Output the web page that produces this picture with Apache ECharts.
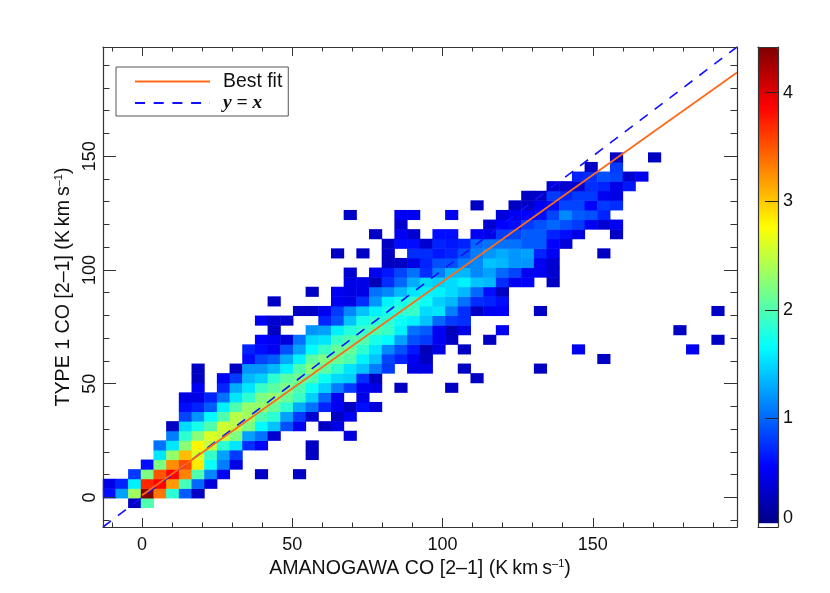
<!DOCTYPE html>
<html>
<head>
<meta charset="utf-8">
<title>CO [2-1] comparison</title>
<script src="https://cdn.jsdelivr.net/npm/echarts@6/dist/echarts.min.js"></script>
<style>
    html, body { margin: 0; padding: 0; background: #fff; }
    #chart { width: 830px; height: 593px; }
</style>
</head>
<body>
<div id="chart"></div>
<script>
// 坐标范围
const axisMin = -13;
const axisMax = 198;
const binCount = 50;
const colorMax = 4.42;

// 每行第一个有值的格子(列号), 行号 = 下标 + 2
const firstColumn = [2, 0, 0, 2, 3, 4, 4, 5, 5, 6, 6, 6, 7, 7, 7, 11, 11, 12, 13, 12, 15, 13, 16, 19, 19, 22, 18, 22, 21, 23, 19, 29, 33, 35, 37, 38, 40];
// log 计数, 从图上估读, null 为空格
const rowValues = [
    [.3, 2.0],
    [.6, 1.25, 2.35, 4.4, 3.35, 1.85, .95, .3],
    [.45, .7, 1.6, 3.7, 3.85, 3.2, 1.95, 1.0, .4],
    [.8, 2.2, 3.5, 3.85, 3.3, 2.0, 1.15, .5, null, null, .3, null, null, .3],
    [.6, 2.2, 3.25, 3.55, 2.85, 1.7, 1.1, .45],
    [1.55, 2.3, 3.05, 2.6, 1.9, 1.25, .8, null, null, null, null, null, .3],
    [1.05, 1.55, 2.25, 2.8, 2.5, 1.85, 1.55, .75, .55, null, null, null, .3],
    [1.1, 1.85, 2.25, 2.6, 2.5, 2.2, 1.25, 1.05, .35, null, null, null, null, null, .4],
    [.3, 1.5, 1.75, 2.0, 2.55, 2.45, 2.2, 1.65, 1.4, .9, .5, null, .3, .45],
    [.85, 1.2, 1.65, 2.0, 2.45, 2.35, 2.0, 1.85, 1.25, .8, .35, null, .3, .5],
    [.6, .7, .95, 1.6, 2.0, 2.3, 2.3, 2.1, 1.85, 1.3, 1.05, .7, .5, .3, .6, .4],
    [.45, .45, .7, 1.05, 1.55, 1.85, 2.2, 2.3, 2.1, 1.9, 1.45, 1.0, .5, null, .45],
    [.5, null, .7, 1.3, 1.55, 1.9, 2.05, 2.2, 2.0, 1.7, 1.45, 1.1, .8, .5, .45, null, .3, null, null, null, .3],
    [.3, null, .5, .8, 1.35, 1.45, 1.85, 2.05, 2.15, 2.0, 1.7, 1.5, 1.45, .75, .3, null, null, null, null, null, null, null, .3],
    [.3, null, null, .3, 1.2, 1.2, 1.35, 1.6, 2.0, 2.25, 2.05, 1.85, 1.55, 1.4, 1.1, .8, null, .45, .45, null, null, .3, null, null, null, null, null, .3],
    [.6, .85, .95, 1.3, 1.6, 2.05, 2.2, 2.1, 2.0, 1.6, 1.4, .85, .7, .5, .3, null, null, null, null, null, null, null, null, null, null, null, null, null, .3],
    [.7, .6, .5, .9, 1.25, 1.65, 1.9, 2.1, 2.1, 1.85, 1.55, 1.15, .9, .65, .25, .45, null, .3, null, null, null, null, null, null, null, null, .5, null, null, null, null, null, null, null, null, .5],
    [.55, .5, .4, 1.05, 1.5, 1.55, 1.9, 2.0, 2.0, 1.75, 1.65, 1.25, .9, .8, .5, .3, null, null, .3, null, null, null, null, null, null, null, null, null, null, null, null, null, null, null, null, null, .3],
    [.3, null, null, 1.2, 1.25, 1.6, 1.8, 1.9, 2.0, 1.9, 1.6, 1.05, .95, .5, .25, .45, null, null, .5, null, null, null, null, null, null, null, null, null, null, null, null, null, .3],
    [.5, .35, .35, null, null, .7, .9, 1.4, 1.75, 1.85, 1.85, 1.7, 1.6, 1.4, 1.0, .8, .75],
    [.3, .3, .5, .8, 1.15, 1.4, 1.6, 1.75, 1.85, 1.9, 1.5, 1.55, 1.1, .75, .3, .5, .55, null, null, .3, null, null, null, null, null, null, null, null, null, null, null, null, null, .3],
    [.3, null, null, null, null, .5, .45, .75, 1.2, 1.6, 1.75, 1.85, 1.7, 1.45, 1.35, 1.05, .75, .7, .6],
    [.3, null, .5, .45, .45, 1.05, 1.15, 1.35, 1.55, 1.6, 1.6, 1.5, 1.35, 1.0, .6, .3],
    [.45, .45, .25, .75, 1.0, 1.3, 1.5, 1.45, 1.5, 1.6, 1.4, 1.35, .75, .5, .55, null, .3],
    [.35, null, .5, .65, .85, 1.05, .75, 1.1, 1.35, 1.35, 1.15, 1.25, 1.0, .85, .5, .5, .35],
    [.3, .3, .45, .7, .9, .9, 1.1, 1.15, 1.4, 1.35, 1.2, 1.2, .5, .35],
    [.3, null, .3, null, .3, null, .75, .75, .65, .7, .9, 1.1, 1.2, 1.3, 1.2, 1.25, .7, .5, null, null, null, .3],
    [.3, .6, .6, .35, .7, .65, .7, 1.0, 1.05, 1.05, 1.05, .95, .95, .55, .4],
    [.3, null, .5, .35, null, .6, .6, null, .5, .45, .8, .85, .95, .95, .7, .6, .45, null, null, .3],
    [.35, null, null, null, null, null, null, .35, .55, .6, .8, .9, 1.0, .9, .8, .5, .35, .5],
    [.3, null, null, null, .5, .5, null, null, .5, null, null, null, .4, .5, .55, .6, .85, 1.15, .95, .9, .7],
    [.3, null, null, .3, .3, .5, .6, .85, .85, .55, .8, .75],
    [.3, .3, .8, .7, .8, .8, .5, .45],
    [.35, .35, .35, .75, .7, .45, .65],
    [.7, .75, .9, .85, .35, .5],
    [.3, null, .8],
    [.3, null, null, .3]
];
const rowOffset = 2;

const fitLine = [[0, 1], [198, 186.8]];
const unityLine = [[axisMin, axisMin], [axisMax, axisMax]];

const jetColors = ['#00007f', '#0000ff', '#007fff', '#00ffff', '#7fff7f', '#ffff00', '#ff7f00', '#ff0000', '#7f0000'];

const binLabels = Array.from({ length: binCount }, (_, i) => String(i));
let heatData = [];
rowValues.forEach((row, r) => {
    row.forEach((v, k) => {
        if (v !== null) heatData.push([firstColumn[r] + k, r + rowOffset, v]);
    });
});

const FONT = '"Liberation Sans", Arial, sans-serif';
const INK = '#111';
const AXIS_LINE = { show: true, onZero: false, lineStyle: { color: '#333', width: 1.2 } };

const plotGrid = { left: 103, right: 93, top: 47, bottom: 66 };

// 主图坐标轴, 四边都有刻度
const valueAxis = (gridIndex, position, tickLen, withLabel, extra) => Object.assign({
    type: 'value',
    gridIndex,
    position,
    min: axisMin,
    max: axisMax,
    splitNumber: 4,
    axisLine: AXIS_LINE,
    axisTick: { show: true, inside: true, length: tickLen, lineStyle: { color: '#333', width: 1 } },
    minorTick: { show: true, splitNumber: 5, length: tickLen / 2, lineStyle: { color: '#333', width: 1 } },
    splitLine: { show: false },
    minorSplitLine: { show: false },
    axisLabel: {
        show: withLabel,
        margin: 9,
        showMinLabel: false,
        showMaxLabel: false,
        color: INK,
        fontFamily: FONT,
        fontSize: 18
    },
    z: 10
}, extra);

const supStyle = { fontSize: 11, fontFamily: FONT, color: INK, verticalAlign: 'top', lineHeight: 12, padding: [0, 0, 8, 0] };
const nameStyle = { color: INK, fontFamily: FONT, fontSize: 19.6, rich: { sup: supStyle } };

const option = {
    animation: false,
    backgroundColor: '#fff',
    grid: [
        plotGrid,
        plotGrid,
        { left: 758, width: 20, top: 47, height: 480 }
    ],
    xAxis: [
        { type: 'category', gridIndex: 0, data: binLabels, show: false },
        valueAxis(1, 'bottom', 9, true, {
            name: 'AMANOGAWA CO [2\u20131] (K\u2009km\u2009s{sup|\u20131})',
            nameLocation: 'middle',
            nameGap: 28,
            nameTextStyle: nameStyle
        }),
        valueAxis(1, 'top', 9, false),
        {
            type: 'value', gridIndex: 2, position: 'bottom', min: 0, max: 1,
            axisLine: AXIS_LINE, axisTick: { show: false }, axisLabel: { show: false }, splitLine: { show: false }, z: 10
        },
        {
            type: 'value', gridIndex: 2, position: 'top', min: 0, max: 1,
            axisLine: AXIS_LINE, axisTick: { show: false }, axisLabel: { show: false }, splitLine: { show: false }, z: 10
        }
    ],
    yAxis: [
        { type: 'category', gridIndex: 0, data: binLabels, show: false },
        valueAxis(1, 'left', 13, true, {
            name: 'TYPE 1 CO [2\u20131] (K\u2009km\u2009s{sup|\u20131})',
            nameLocation: 'middle',
            nameGap: 13,
            nameTextStyle: nameStyle,
            axisLabel: {
                show: true, rotate: 90, margin: 4, showMinLabel: false, showMaxLabel: false,
                color: INK, fontFamily: FONT, fontSize: 18
            }
        }),
        valueAxis(1, 'right', 13, false),
        {
            type: 'value', gridIndex: 2, position: 'right', min: 0, max: colorMax, interval: 1,
            axisLine: AXIS_LINE,
            axisTick: { show: true, inside: true, length: 13, lineStyle: { color: '#222', width: 1 } },
            axisLabel: {
                show: true, margin: 5, showMaxLabel: false, verticalAlignMinLabel: 'bottom',
                padding: [4, 0, 0, 0],
                color: INK, fontFamily: FONT, fontSize: 18
            },
            splitLine: { show: false },
            z: 10
        },
        {
            type: 'value', gridIndex: 2, position: 'left', min: 0, max: colorMax,
            axisLine: AXIS_LINE, axisTick: { show: false }, axisLabel: { show: false }, splitLine: { show: false }, z: 10
        }
    ],
    visualMap: {
        type: 'continuous',
        seriesIndex: 0,
        min: 0,
        max: colorMax,
        calculable: false,
        hoverLink: false,
        left: 758,
        top: 47,
        padding: 0,
        itemWidth: 20,
        itemHeight: 480,
        inRange: { color: jetColors }
    },
    legend: {
        data: ['Best fit', 'y = x'],
        orient: 'vertical',
        left: 116,
        top: 67,
        padding: [5, 6, 3, 18],
        itemWidth: 75,
        itemHeight: 12,
        itemGap: 2,
        align: 'left',
        selectedMode: false,
        borderColor: '#555',
        borderWidth: 1,
        backgroundColor: '#fff',
        itemStyle: { opacity: 0 },
        formatter: (name) => (name === 'y = x' ? '{m|y = x}' : name),
        textStyle: {
            color: INK,
            fontFamily: FONT,
            fontSize: 19.4,
            padding: [0, 0, 0, 8],
            rich: {
                m: { fontFamily: '"Liberation Serif", serif', fontStyle: 'italic', fontWeight: 'bold', fontSize: 19.5, color: INK }
            }
        }
    },
    series: [
        {
            type: 'heatmap',
            xAxisIndex: 0,
            yAxisIndex: 0,
            data: heatData,
            silent: true
        },
        {
            name: 'y = x',
            type: 'line',
            xAxisIndex: 1,
            yAxisIndex: 1,
            data: unityLine,
            symbol: 'none',
            silent: true,
            z: 4,
            lineStyle: { color: '#1010ff', width: 1.6, type: [10, 8.7] },
            itemStyle: { color: '#1010ff' }
        },
        {
            name: 'Best fit',
            type: 'line',
            xAxisIndex: 1,
            yAxisIndex: 1,
            data: fitLine,
            symbol: 'none',
            silent: true,
            z: 5,
            lineStyle: { color: '#ff6a1a', width: 1.8 },
            itemStyle: { color: '#ff6a1a' }
        },
        {
            // 色条底部的白色小段
            type: 'line',
            xAxisIndex: 3,
            yAxisIndex: 3,
            data: [[0, 0], [1, 0]],
            symbol: 'none',
            silent: true,
            lineStyle: { width: 0 },
            z: 6,
            markArea: {
                silent: true,
                z: 6,
                itemStyle: { color: '#fff' },
                data: [[{ yAxis: 0 }, { yAxis: 0.035 }]]
            }
        }
    ]
};

const myChart = echarts.init(document.getElementById('chart'));
myChart.setOption(option);
</script>
</body>
</html>
